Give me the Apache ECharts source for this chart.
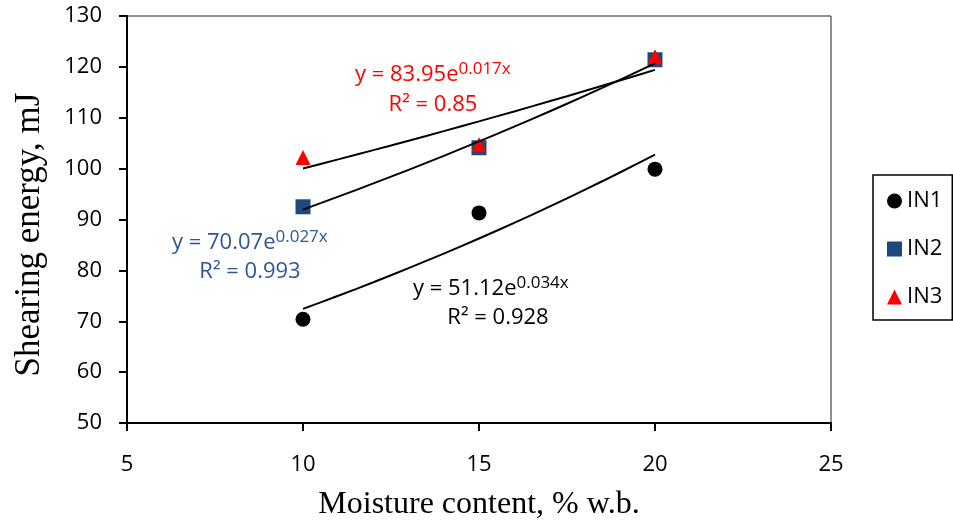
<!DOCTYPE html>
<html><head><meta charset="utf-8">
<script src="https://cdn.jsdelivr.net/npm/echarts@6/dist/echarts.min.js"></script>
<style>html,body{margin:0;padding:0;background:#fff}#c{width:953px;height:522px}</style>
</head><body><div id="c"></div>
<script>
// ---- data ----
const moisture = [10, 15, 20];
const in1 = [70.4, 91.3, 99.9];
const in2 = [92.5, 104.1, 121.4];
const in3 = [102.2, 104.7, 122.0];
const seriesNames = ['IN1', 'IN2', 'IN3'];
const xRange = [5, 25, 5];      // min, max, interval
const yRange = [50, 130, 10];
const eqText = ['y = 51.12e', 'y = 70.07e', 'y = 83.95e'];
const eqExp = ['0.034x', '0.027x', '0.017x'];
const r2Text = ['R² = 0.928', 'R² = 0.993', 'R² = 0.85'];

const colors = ['#000000', '#1F497D', '#FF0000'];
const textColors = ['#000000', '#2B5797', '#FF0000'];
const symbols = ['circle', 'rect', 'triangle'];
const sans = 'Open Sans';
const serif = 'Liberation Serif';

// exponential least-squares fit (as Excel's trendline): ln y = ln a + b x
function expFit(xs, ys) {
  const n = xs.length;
  const ly = ys.map(Math.log);
  const mx = xs.reduce((s, v) => s + v, 0) / n;
  const my = ly.reduce((s, v) => s + v, 0) / n;
  let sxy = 0, sxx = 0;
  for (let i = 0; i < n; i++) { sxy += (xs[i] - mx) * (ly[i] - my); sxx += (xs[i] - mx) ** 2; }
  const b = sxy / sxx;
  const a = Math.exp(my - b * mx);
  const pts = [];
  const x0 = Math.min(...xs), x1 = Math.max(...xs);
  const steps = 20;
  for (let k = 0; k <= steps; k++) {
    const x = x0 + (x1 - x0) * k / steps;
    pts.push([x, a * Math.exp(b * x)]);
  }
  return pts;
}

const allData = [in1, in2, in3];
const series = [];
allData.forEach((ys, i) => {
  series.push({
    name: seriesNames[i], type: 'scatter', symbol: symbols[i], symbolSize: 15,
    itemStyle: { color: colors[i], opacity: 1 }, z: 3 + i,
    data: moisture.map((x, j) => [x, ys[j]])
  });
});
allData.forEach((ys, i) => {
  series.push({
    name: 'trend' + i, type: 'line', showSymbol: false, symbol: 'none',
    lineStyle: { color: '#000', width: 2 }, z: 6, silent: true,
    data: expFit(moisture, ys)
  });
});

function eq(i, left, top) {
  return {
    type: 'text', x: left, y: top, z: 100,
    style: {
      text: '{m|' + eqText[i] + '}{s|' + eqExp[i] + '}',
      rich: {
        m: { fontSize: 22, fontFamily: sans, fill: textColors[i], verticalAlign: 'bottom' },
        s: { fontSize: 17, fontFamily: sans, fill: textColors[i], verticalAlign: 'bottom', padding: [0, 0, 8, 0] }
      }
    }
  };
}
function r2(i, cx, cy) {
  return {
    type: 'text', x: cx, y: cy, z: 100,
    style: { text: r2Text[i], fontSize: 22, fontFamily: sans, fill: textColors[i], align: 'center', verticalAlign: 'middle' }
  };
}

const chart = echarts.init(document.getElementById('c'), null, { renderer: 'canvas' });
chart.setOption({
  animation: false,
  backgroundColor: '#fff',
  grid: { left: 127, right: 122, top: 16, bottom: 99, show: true, borderColor: '#222', borderWidth: 1,
          containLabel: false, outerBoundsMode: 'none' },
  xAxis: {
    type: 'value', min: xRange[0], max: xRange[1], interval: xRange[2],
    name: 'Moisture content, % w.b.', nameLocation: 'middle', nameGap: 66,
    nameTextStyle: { fontFamily: serif, fontSize: 32, color: '#000' },
    axisLine: { show: true, lineStyle: { color: '#000', width: 2 } },
    axisTick: { show: true, inside: false, length: 8, lineStyle: { color: '#000', width: 2 } },
    axisLabel: { fontFamily: sans, fontSize: 22, color: '#000', margin: 31 },
    splitLine: { show: false }
  },
  yAxis: {
    type: 'value', min: yRange[0], max: yRange[1], interval: yRange[2],
    name: 'Shearing energy, mJ', nameLocation: 'middle', nameGap: 80, nameRotate: 90,
    nameTextStyle: { fontFamily: serif, fontSize: 35, color: '#000', padding: [0, 30, 0, 0] },
    axisLine: { show: true, lineStyle: { color: '#000', width: 2 } },
    axisTick: { show: true, inside: false, length: 8, lineStyle: { color: '#000', width: 2 } },
    axisLabel: { fontFamily: sans, fontSize: 22, color: '#000', margin: 25 },
    splitLine: { show: false }
  },
  legend: {
    data: seriesNames, orient: 'vertical', left: 873, top: 175,
    padding: [15, 10, 12, 14], itemGap: 26, itemWidth: 15, itemHeight: 15,
    borderColor: '#000', borderWidth: 1.5,
    itemStyle: { opacity: 1 },
    textStyle: { fontFamily: sans, fontSize: 22, color: '#000' }
  },
  graphic: [
    eq(2, 355, 61), r2(2, 433, 105),
    eq(1, 172, 229), r2(1, 250, 272),
    eq(0, 413, 275), r2(0, 498, 318)
  ],
  series: series
});
</script></body></html>
